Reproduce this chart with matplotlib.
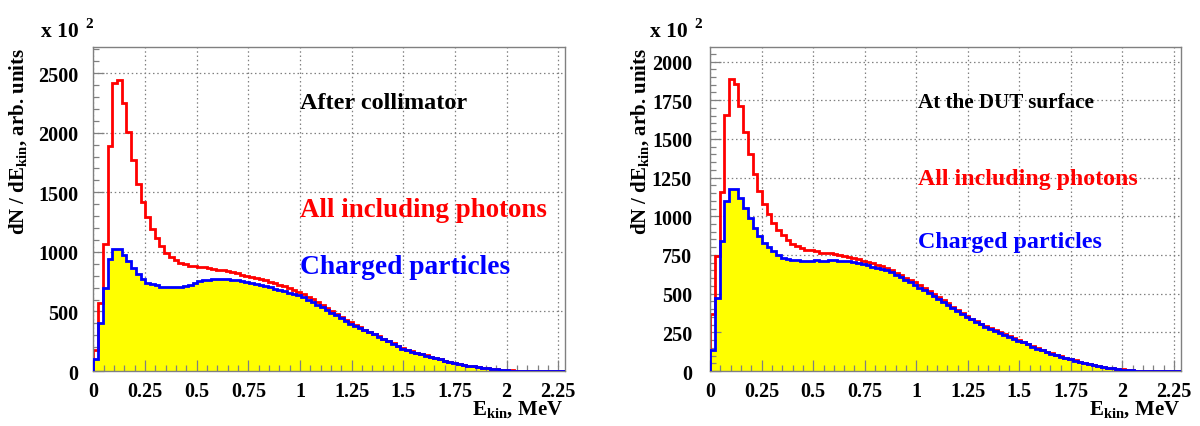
import numpy as np
import matplotlib
matplotlib.use('Agg')
import matplotlib.pyplot as plt
from matplotlib.ticker import MultipleLocator, FixedLocator

plt.rcParams['font.family'] = ['Liberation Serif', 'DejaVu Serif']
plt.rcParams['font.weight'] = 'bold'
plt.rcParams['mathtext.fontset'] = 'custom'
plt.rcParams['mathtext.rm'] = 'Liberation Serif:bold'
plt.rcParams['mathtext.bf'] = 'Liberation Serif:bold'
plt.rcParams['mathtext.it'] = 'Liberation Serif:bold'

# ---------------- data (x 10^2 counts per bin) ----------------
bin_width = 0.02285  # MeV

left_all = [173, 574, 1063, 1889, 2415, 2443, 2252, 2006, 1771, 1573,
            1419, 1293, 1189, 1114, 1049, 993, 957, 929, 909, 895,
            885, 880, 876, 870, 865, 860, 852, 845, 837, 828,
            820, 810, 800, 792, 783, 773, 762, 751, 739, 726,
            713, 699, 684, 667, 647, 625, 602, 578, 554, 530,
            505, 480, 456, 432, 408, 386, 367, 348, 329, 310,
            291, 271, 251, 231, 210, 190, 178, 165, 154, 143,
            132, 121, 110, 99, 88, 77, 66, 58, 51, 45,
            39, 33, 28, 23, 18, 14, 10, 7, 5, 3,
            2, 1, 1, 0, 0, 0, 0, 0, 0, 0]

left_charged = [104, 406, 700, 937, 1021, 1021, 974, 923, 862, 811,
                775, 741, 727, 719, 708, 702, 702, 704, 708, 716,
                726, 740, 752, 762, 768, 774, 776, 774, 772, 768,
                763, 756, 748, 740, 731, 722, 712, 702, 691, 680,
                669, 657, 646, 636, 619, 600, 580, 558, 535, 512,
                490, 467, 443, 420, 396, 380, 362, 344, 326, 307,
                288, 268, 248, 228, 208, 188, 176, 163, 152, 141,
                130, 119, 108, 97, 86, 76, 65, 57, 50, 44,
                38, 32, 27, 22, 17, 13, 9, 6, 4, 2,
                1, 1, 0, 0, 0, 0, 0, 0, 0, 0]

right_all = [371, 744, 1157, 1657, 1886, 1853, 1711, 1545, 1401, 1272,
             1162, 1078, 1015, 959, 909, 877, 845, 823, 806, 795,
             784, 780, 774, 765, 763, 765, 759, 752, 744, 737,
             733, 722, 714, 705, 696, 686, 676, 665, 650, 634,
             618, 602, 588, 572, 555, 537, 519, 500, 480, 460,
             438, 416, 395, 375, 356, 338, 321, 305, 290, 276,
             263, 250, 237, 224, 212, 200, 188, 176, 160, 147,
             135, 124, 114, 104, 95, 86, 77, 69, 61, 54,
             47, 40, 34, 28, 22, 18, 14, 10, 7, 5,
             3, 2, 1, 1, 0, 0, 0, 0, 0, 0]

right_charged = [138, 474, 841, 1097, 1179, 1175, 1121, 1054, 989, 925,
                 871, 828, 800, 774, 750, 733, 724, 720, 716, 713,
                 711, 713, 718, 713, 711, 720, 718, 713, 711, 709,
                 705, 698, 690, 683, 675, 667, 660, 650, 638, 622,
                 605, 588, 572, 556, 539, 522, 505, 487, 468, 448,
                 428, 408, 388, 369, 351, 334, 317, 301, 287, 273,
                 260, 247, 234, 221, 209, 197, 185, 173, 158, 145,
                 133, 122, 112, 102, 93, 84, 75, 67, 59, 52,
                 45, 38, 32, 26, 21, 17, 13, 9, 6, 4,
                 2, 1, 1, 0, 0, 0, 0, 0, 0, 0]

x_major = [0, 0.25, 0.5, 0.75, 1, 1.25, 1.5, 1.75, 2, 2.25]
x_labels = ['0', '0.25', '0.5', '0.75', '1', '1.25', '1.5', '1.75', '2', '2.25']
left_y_major = [0, 500, 1000, 1500, 2000, 2500]
right_y_major = [0, 250, 500, 750, 1000, 1250, 1500, 1750, 2000]

left_title = 'After collimator'
right_title = 'At the DUT surface'
label_all = 'All including photons'
label_charged = 'Charged particles'

# ---------------- figure ----------------
fig = plt.figure(figsize=(12, 4.27), dpi=100)
axL = fig.add_axes([0.0778, 0.1288, 0.3931, 0.7588])
axR = fig.add_axes([0.5918, 0.1288, 0.3922, 0.7588])

GRAY = '#808080'


def draw(ax, all_vals, ch_vals, ymax, ymajor, yminor, ypad):
    n = len(all_vals)
    edges = np.arange(n + 1) * bin_width
    ax.set_xlim(0, 2.283)
    ax.set_ylim(0, ymax)
    for xv in x_major:
        ax.axvline(xv, color=GRAY, lw=0.9, ls=(0, (1.2, 2.2)), zorder=0.3)
    for yv in ymajor:
        ax.axhline(yv, color=GRAY, lw=0.9, ls=(0, (1.2, 2.2)), zorder=0.3)
    ax.stairs(ch_vals, edges, fill=True, color='#ffff00', zorder=1)
    ax.stairs(all_vals, edges, color='#ff0000', lw=2.0, zorder=2)
    ax.stairs(ch_vals, edges, color='#0000ff', lw=2.0, zorder=3)

    ax.xaxis.set_major_locator(FixedLocator(x_major))
    ax.set_xticklabels(x_labels)
    ax.xaxis.set_minor_locator(MultipleLocator(0.05))
    ax.yaxis.set_major_locator(FixedLocator(ymajor))
    ax.yaxis.set_minor_locator(MultipleLocator(yminor))
    ax.tick_params(which='both', direction='in', color=GRAY, labelcolor='black',
                   top=False, right=False, labelsize=14.5)
    ax.tick_params(which='major', length=8, width=0.9)
    ax.tick_params(which='minor', length=4, width=0.9)
    ax.tick_params(axis='x', pad=7)
    ax.tick_params(axis='y', pad=ypad)
    for lab in ax.get_xticklabels() + ax.get_yticklabels():
        lab.set_fontweight('bold')
    for sp in ax.spines.values():
        sp.set_color(GRAY)
        sp.set_linewidth(1.0)


draw(axL, left_all, left_charged, 2720, left_y_major, 100, 11)
draw(axR, right_all, right_charged, 2094, right_y_major, 50, 13)

axL.text(0.438, 0.830, left_title, transform=axL.transAxes, color='black',
         fontsize=17.5, fontweight='bold', va='center', ha='left')
axL.text(0.438, 0.497, label_all, transform=axL.transAxes, color='#ff0000',
         fontsize=19.4, fontweight='bold', va='center', ha='left')
axL.text(0.438, 0.321, label_charged, transform=axL.transAxes, color='#0000ff',
         fontsize=19.8, fontweight='bold', va='center', ha='left')

axR.text(0.442, 0.830, right_title, transform=axR.transAxes, color='black',
         fontsize=15.2, fontweight='bold', va='center', ha='left')
axR.text(0.442, 0.593, label_all, transform=axR.transAxes, color='#ff0000',
         fontsize=17.2, fontweight='bold', va='center', ha='left')
axR.text(0.442, 0.401, label_charged, transform=axR.transAxes, color='#0000ff',
         fontsize=17.3, fontweight='bold', va='center', ha='left')

ylab = r'dN / dE$_{\mathrm{kin}}$, arb. units'
xlab = r'E$_{\mathrm{kin}}$, MeV'
W, H = 1200.0, 427.0
fig.text(18 / W, 1 - 48 / H, ylab, rotation=90, ha='center', va='top',
         fontsize=15, fontweight='bold')
fig.text(640 / W, 1 - 48 / H, ylab, rotation=90, ha='center', va='top',
         fontsize=15, fontweight='bold')
fig.text(563 / W, 1 - 410 / H, xlab, ha='right', va='center',
         fontsize=15, fontweight='bold')
fig.text(1180 / W, 1 - 410 / H, xlab, ha='right', va='center',
         fontsize=15, fontweight='bold')

for xl in (41, 650):
    fig.text(xl / W, 1 - 32 / H, 'x 10', ha='left', va='center',
             fontsize=15.5, fontweight='bold')
    fig.text((xl + 44) / W, 1 - 24 / H, '2', ha='left', va='center',
             fontsize=11, fontweight='bold')

fig.savefig('out.png', dpi=100)
